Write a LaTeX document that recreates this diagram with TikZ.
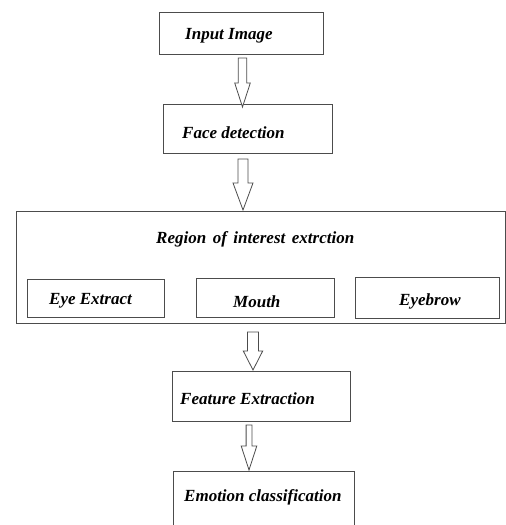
\documentclass[tikz,border=0pt]{standalone}
\usepackage{fontspec}
\setmainfont{Liberation Serif}
\tikzset{
  box/.style={draw=black!70, line width=0.9pt, fill=white, rectangle, inner sep=0pt},
  lbl/.style={anchor=base west, inner sep=0pt, font=\fontsize{17}{20}\selectfont\bfseries\itshape},
  blockarr/.style={draw=black!70, line width=0.8pt, fill=white, line join=miter}
}
\newcommand{\blockarrow}[7]{%
  % #1 name, #2 cx, #3 top, #4 head base, #5 tip, #6 stem half width, #7 head half width
  \coordinate (#1s) at (#2,#3);
  \coordinate (#1e) at (#2,#5);
  \draw[blockarr] (#2-#6,#3) -- (#2+#6,#3) -- (#2+#6,#4) -- (#2+#7,#4) -- (#1e)
     -- (#2-#7,#4) -- (#2-#6,#4) -- cycle;
}
\begin{document}
\begin{tikzpicture}[x=1pt,y=-1pt]
\useasboundingbox (0,0) rectangle (506,525);
\clip (0,0) rectangle (506,525);
% boxes
\node[box, minimum width=164pt, minimum height=42pt] (inp) at (241,33) {};
\node[box, minimum width=169pt, minimum height=49pt] (face) at (247.5,128.5) {};
\node[box, minimum width=489pt, minimum height=112pt] (roi) at (260.5,267) {};
\node[box, minimum width=137pt, minimum height=38pt] (eye) at (95.5,298) {};
\node[box, minimum width=138pt, minimum height=39pt] (mouth) at (265,297.5) {};
\node[box, minimum width=144pt, minimum height=41pt] (brow) at (427,297.5) {};
\node[box, minimum width=178pt, minimum height=50pt] (feat) at (261,396) {};
\node[box, minimum width=181pt, minimum height=80pt] (emo) at (263.5,511) {};
% labels
\node[lbl] (inpT) at (185,39) {Input Image};
\node[lbl] (faceT) at (182,138) {Face detection};
\node[lbl] (roiT) at (156,243) {Region\hspace{6.5pt}of\hspace{6.5pt}interest\hspace{6.5pt}extrction};
\node[lbl] (eyeT) at (49,304) {Eye Extract};
\node[lbl] (mouthT) at (233,307) {Mouth};
\node[lbl] (browT) at (399,305) {Eyebrow};
\node[lbl] (featT) at (180,404) {Feature Extraction};
\node[lbl] (emoT) at (184,501) {Emotion classification};
% block arrows
\blockarrow{a1}{242.5}{58}{83}{107}{4.2}{7.8}
\blockarrow{a2}{243}{159}{183}{210}{5}{10}
\blockarrow{a3}{253}{332}{351}{370}{5.5}{9.7}
\blockarrow{a4}{249}{425}{446}{470}{2.9}{7.8}
\end{tikzpicture}
\end{document}
